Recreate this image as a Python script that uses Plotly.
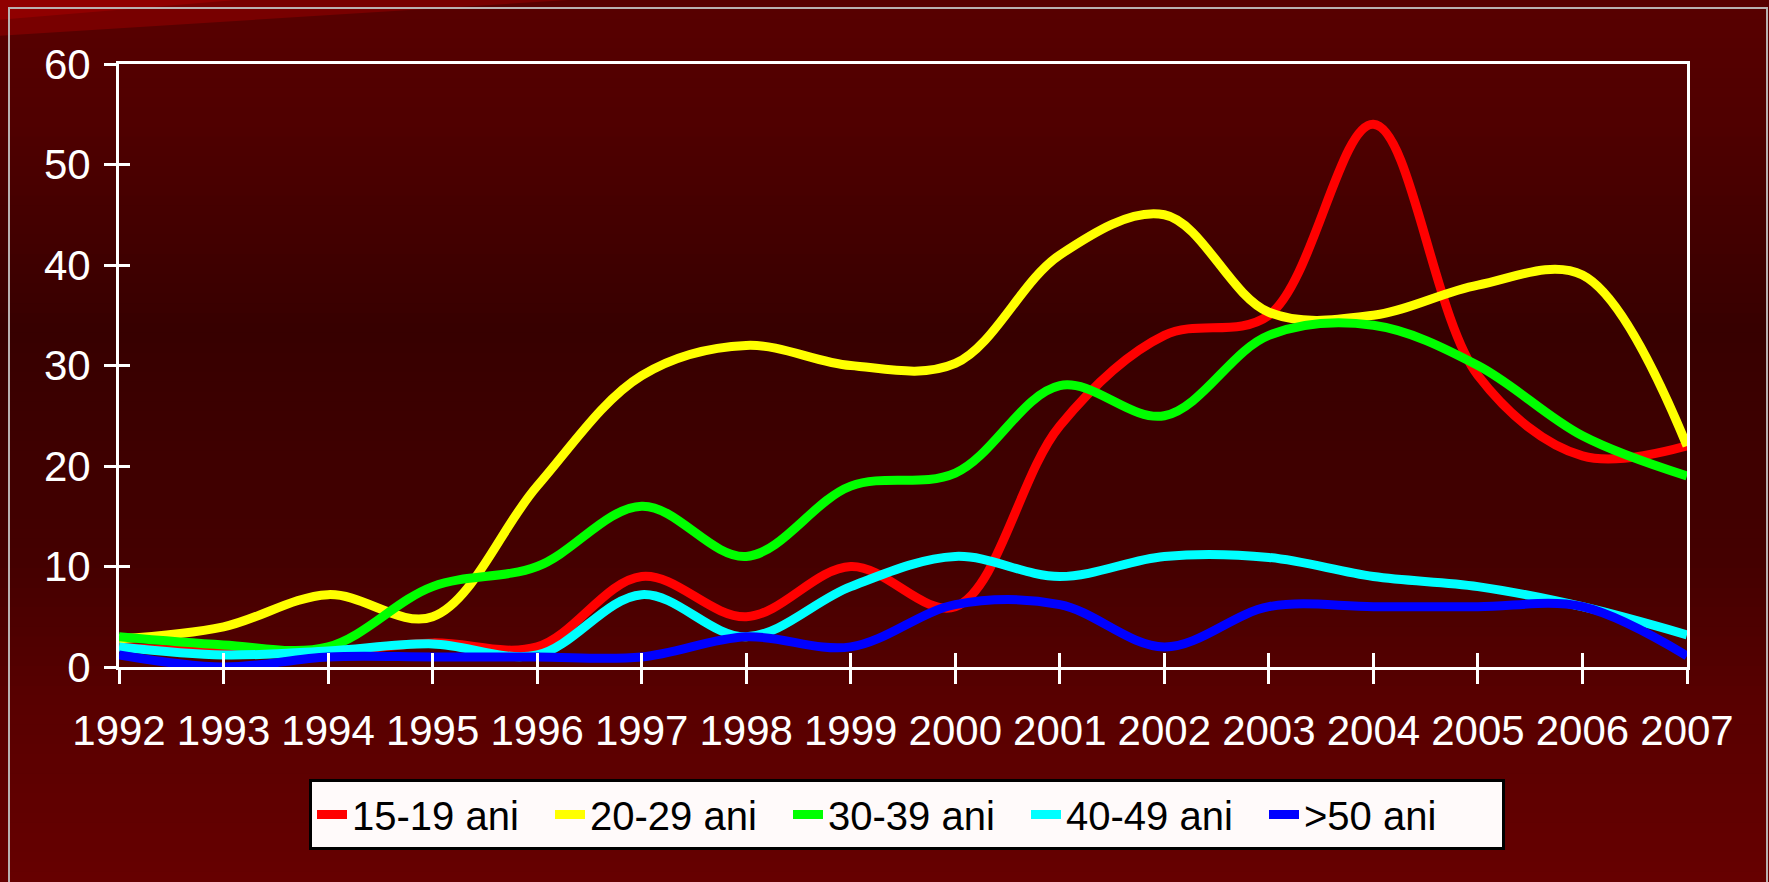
import plotly.graph_objects as go

years = [1992, 1993, 1994, 1995, 1996, 1997, 1998, 1999, 2000, 2001, 2002, 2003, 2004, 2005, 2006, 2007]
year_labels = [str(y) for y in years]

s15_19 = [2.0, 1.5, 1.5, 2.4, 2.0, 9.0, 5.0, 10.0, 6.0, 24.0, 33.0, 35.0, 54.0, 29.0, 21.0, 22.0]
s20_29 = [2.8, 4.0, 7.2, 5.0, 18.0, 29.0, 32.0, 30.0, 30.2, 41.0, 45.0, 35.3, 35.0, 38.0, 39.0, 22.0]
s30_39 = [3.0, 2.2, 2.0, 8.0, 10.0, 16.0, 11.0, 18.0, 19.3, 28.0, 25.0, 33.0, 34.0, 30.0, 23.0, 19.0]
s40_49 = [2.0, 1.2, 1.6, 2.3, 1.2, 7.2, 3.0, 8.0, 11.0, 9.0, 11.0, 10.9, 9.0, 8.0, 6.0, 3.2]
s50 = [1.2, 0.0, 1.0, 1.0, 1.0, 1.0, 3.0, 2.0, 6.2, 6.2, 2.0, 6.0, 6.0, 6.0, 6.0, 1.1]

series_names = ["15-19 ani", "20-29 ani", "30-39 ani", "40-49 ani", ">50 ani"]
series_values = [s15_19, s20_29, s30_39, s40_49, s50]
series_colors = ["#ff0000", "#ffff00", "#00ff00", "#00ffff", "#0000ff"]

W, H = 1769, 882
L, R, T, B = 119, 82, 64, 215
PW, PH = W - L - R, H - T - B


def px_x(px):
    return (px - L) / PW


def px_y(py):
    return (H - B - py) / PH


FONT = "Liberation Sans, Arial, sans-serif"

fig = go.Figure()
for name, vals, col in zip(series_names, series_values, series_colors):
    fig.add_trace(go.Scatter(
        x=years, y=vals, name=name, mode="lines",
        line=dict(color=col, width=9, shape="spline", smoothing=1.0),
    ))

# dummy trace to carry overlay axes (crossing tick marks)
fig.add_trace(go.Scatter(x=[None], y=[None], xaxis="x2", yaxis="y2",
                         showlegend=False, hoverinfo="skip", mode="lines"))

# background gradient bands
stops = [(0, (0x58, 0, 0)), (120, (0x50, 0, 0)), (330, (0x37, 0, 0)),
         (560, (0x44, 0, 0)), (700, (0x58, 0, 0)), (882, (0x66, 0, 0))]


def colr(py):
    for (a, ca), (b, cb) in zip(stops[:-1], stops[1:]):
        if a <= py <= b:
            t = (py - a) / (b - a)
            return "rgb(%d,%d,%d)" % tuple(round(ca[i] + (cb[i] - ca[i]) * t) for i in range(3))
    return "rgb(102,0,0)"


shapes = []
nb = 90
for i in range(nb):
    y0 = H * i / nb
    y1 = H * (i + 1) / nb
    shapes.append(dict(type="rect", xref="paper", yref="paper", layer="below",
                       x0=px_x(-2), x1=px_x(W + 2), y0=px_y(y1 + 0.5), y1=px_y(y0 - 0.5),
                       line=dict(width=0), fillcolor=colr((y0 + y1) / 2)))
# top-left bright streak
shapes.append(dict(type="path", xref="paper", yref="paper", layer="below",
                   path="M %f,%f L %f,%f L %f,%f Z" % (px_x(-2), px_y(-2), px_x(600), px_y(-2), px_x(-2), px_y(36)),
                   line=dict(width=0), fillcolor="#780000"))
shapes.append(dict(type="path", xref="paper", yref="paper", layer="below",
                   path="M %f,%f L %f,%f L %f,%f Z" % (px_x(-2), px_y(-2), px_x(260), px_y(-2), px_x(-2), px_y(20)),
                   line=dict(width=0), fillcolor="#900000"))
# outer thin gray frame
shapes.append(dict(type="rect", xref="paper", yref="paper", layer="below",
                   x0=px_x(9), x1=px_x(1767), y0=px_y(890), y1=px_y(8),
                   line=dict(width=2, color="#b8b0b0"), fillcolor="rgba(0,0,0,0)"))

axis_common = dict(showgrid=False, zeroline=False, linecolor="white", linewidth=3,
                   tickcolor="white", tickwidth=2.5, color="white",
                   tickfont=dict(family=FONT, size=42, color="white"))

fig.update_layout(
    width=W, height=H,
    margin=dict(l=L, r=R, t=T, b=B, pad=0),
    paper_bgcolor="#3a0000",
    plot_bgcolor="rgba(0,0,0,0)",
    font=dict(family=FONT, size=42, color="white"),
    shapes=shapes,
    xaxis=dict(range=[1992, 2007], tickmode="array", tickvals=years, ticktext=year_labels,
               showline=True, mirror=True, ticks="outside", ticklen=14,
               ticklabelstandoff=11, **axis_common),
    yaxis=dict(range=[0, 60], tickmode="linear", tick0=0, dtick=10,
               showline=True, mirror=True, ticks="outside", ticklen=12,
               ticklabelstandoff=5, **axis_common),
    xaxis2=dict(overlaying="x", anchor="y2", side="bottom", range=[1992, 2007],
                tickmode="array", tickvals=years, showticklabels=False,
                showline=False, showgrid=False, zeroline=False,
                ticks="inside", ticklen=14, tickwidth=2.5, tickcolor="white"),
    yaxis2=dict(overlaying="y", anchor="x2", side="left", range=[0, 60],
                tickmode="linear", tick0=0, dtick=10, showticklabels=False,
                showline=False, showgrid=False, zeroline=False,
                ticks="inside", ticklen=11, tickwidth=2.5, tickcolor="white"),
    legend=dict(orientation="h", x=px_x(907), xanchor="center", y=px_y(779), yanchor="top",
                bgcolor="#fffafa", bordercolor="black", borderwidth=3,
                font=dict(family=FONT, size=40, color="black"),
                entrywidth=193, entrywidthmode="pixels", itemwidth=30,
                tracegroupgap=0),
    showlegend=True,
)

fig.write_html("out.html", config={"displayModeBar": False},
               post_script="document.body.style.margin='0';document.body.style.padding='0';"
                           "document.body.style.overflow='hidden';document.body.style.background='#3a0000';")
